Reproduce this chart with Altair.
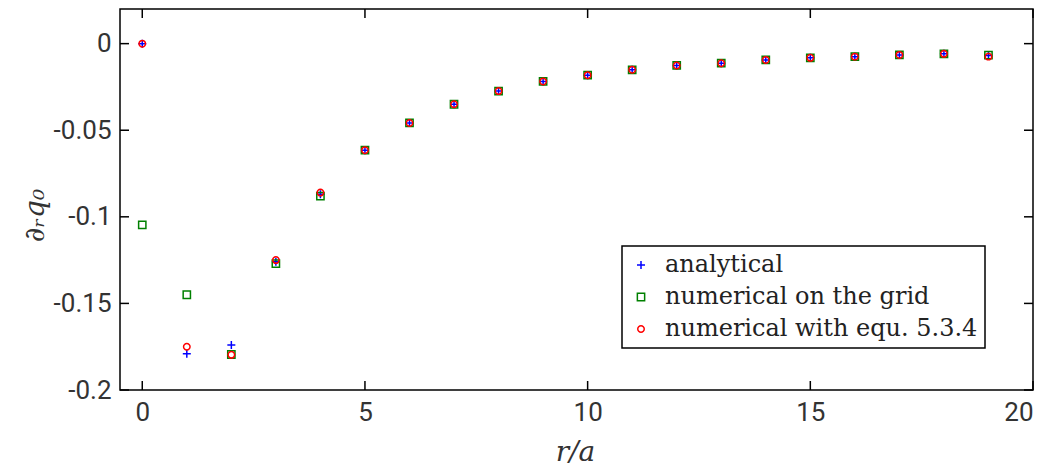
import altair as alt
import pandas as pd

# ---- data ----
r_values = list(range(20))
analytical = [0.0, -0.179, -0.174, -0.126, -0.087, -0.0615, -0.0458, -0.035, -0.0274, -0.0218,
              -0.0182, -0.0151, -0.0126, -0.0113, -0.0094, -0.0082, -0.0075, -0.0065, -0.0059, -0.0069]
grid = [-0.1046, -0.145, -0.1795, -0.127, -0.088, -0.0615, -0.0458, -0.035, -0.0274, -0.0218,
        -0.0182, -0.0151, -0.0126, -0.0113, -0.0094, -0.0082, -0.0075, -0.0065, -0.0059, -0.0066]
equ = [0.0, -0.175, -0.1797, -0.125, -0.086, -0.0615, -0.0458, -0.035, -0.0274, -0.0218,
       -0.0182, -0.0151, -0.0126, -0.0113, -0.0094, -0.0082, -0.0075, -0.0065, -0.0059, -0.0075]
series_names = ["analytical", "numerical on the grid", "numerical with equ. 5.3.4"]
series_colors = ["#0000ff", "#008000", "#ff0000"]
x_ticks = [0, 5, 10, 15, 20]
y_ticks = [0, -0.05, -0.1, -0.15, -0.2]

rows = []
for name, vals in zip(series_names, [analytical, grid, equ]):
    for r, v in zip(r_values, vals):
        rows.append({"r": r, "v": v, "series": name})
df = pd.DataFrame(rows)

W, H = 913, 381
TL = 9
xscale = alt.Scale(domain=[-0.5, 20], nice=False, zero=False)
yscale = alt.Scale(domain=[-0.2, 0.02], nice=False, zero=False)
plus = "M-1,0L1,0M0,-1L0,1"

x_axis = alt.Axis(values=x_ticks, title="r/a", titleX=455, titleY=62,
                  titleBaseline="middle", titleAlign="center")
y_axis = alt.Axis(values=y_ticks, title="∂ᵣq₀",
                  labelExpr="replace(format(datum.value, ''), '\u2212', '-')",
                  titleX=-85, titleY=206, titleAngle=270,
                  titleAlign="center", titleBaseline="middle")

points = alt.Chart(df).mark_point(filled=False, strokeWidth=1.5, opacity=1).encode(
    x=alt.X("r:Q", scale=xscale, axis=x_axis),
    y=alt.Y("v:Q", scale=yscale, axis=y_axis),
    color=alt.Color("series:N", scale=alt.Scale(domain=series_names, range=series_colors),
                    legend=alt.Legend(title=None)),
    shape=alt.Shape("series:N", scale=alt.Scale(domain=series_names, range=[plus, "square", "circle"]),
                    legend=alt.Legend(title=None)),
    size=alt.Size("series:N", scale=alt.Scale(domain=series_names, range=[64, 42, 80]), legend=None),
)

xt = pd.DataFrame({"r": x_ticks})
yt = pd.DataFrame({"v": y_ticks})
rule = dict(color="black", strokeWidth=1.5)
top_ticks = alt.Chart(xt).mark_rule(**rule).encode(
    x=alt.X("r:Q", scale=xscale, axis=x_axis), y=alt.value(0), y2=alt.value(TL))
bottom_ticks = alt.Chart(xt).mark_rule(**rule).encode(
    x=alt.X("r:Q", scale=xscale, axis=x_axis), y=alt.value(H), y2=alt.value(H - TL))
left_ticks = alt.Chart(yt).mark_rule(**rule).encode(
    y=alt.Y("v:Q", scale=yscale, axis=y_axis), x=alt.value(0), x2=alt.value(TL))
right_ticks = alt.Chart(yt).mark_rule(**rule).encode(
    y=alt.Y("v:Q", scale=yscale, axis=y_axis), x=alt.value(W), x2=alt.value(W - TL))

chart = alt.layer(points, top_ticks, bottom_ticks, left_ticks, right_ticks).properties(
    width=W, height=H,
    padding={"left": 120, "top": 9, "right": 20, "bottom": 80},
    autosize=alt.AutoSizeParams(type="none"),
    background="white",
).configure_view(
    stroke="black", strokeWidth=1.5
).configure_axis(
    domain=False, ticks=False, grid=False,
    labelFont="Roboto", labelFontSize=26, labelColor="#333333", labelPadding=9,
    titleFont="DejaVu Serif", titleFontStyle="italic", titleFontWeight="normal",
    titleFontSize=28, titleColor="#333333",
).configure_legend(
    orient="none", legendX=502, legendY=237, direction="vertical",
    strokeColor="black", strokeWidth=1.5, fillColor="white", cornerRadius=0,
    padding=7, labelFont="DejaVu Serif", labelFontSize=24, labelColor="#222222",
    labelLimit=500, symbolSize=30, symbolStrokeWidth=1.5, rowPadding=8, labelOffset=12,
)

chart.save("out.html", embed_options={"renderer": "svg", "actions": False})
